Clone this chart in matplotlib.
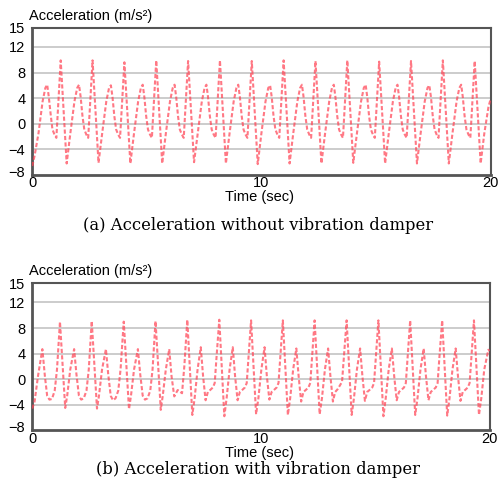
import matplotlib
matplotlib.use("Agg")
import matplotlib.pyplot as plt
import matplotlib.transforms as mtransforms

# ---------------- data ----------------
top_time = [0.00, 0.10, 0.27, 0.45, 0.57, 0.65, 0.72, 0.81, 0.88, 0.97, 1.05,
            1.24, 1.50, 1.66, 1.84, 1.96, 2.04, 2.11, 2.19, 2.27, 2.36, 2.44,
            2.63, 2.89, 3.05, 3.23, 3.35, 3.43, 3.50, 3.58, 3.66, 3.75, 3.83,
            4.02, 4.28, 4.44, 4.62, 4.74, 4.82, 4.89, 4.97, 5.05, 5.14, 5.22,
            5.41, 5.67, 5.83, 6.01, 6.13, 6.21, 6.28, 6.36, 6.44, 6.53, 6.61,
            6.80, 7.06, 7.22, 7.40, 7.52, 7.60, 7.67, 7.75, 7.83, 7.92, 8.00,
            8.19, 8.45, 8.61, 8.79, 8.91, 8.99, 9.06, 9.14, 9.22, 9.31, 9.39,
            9.58, 9.84, 10.00, 10.18, 10.30, 10.38, 10.45, 10.53, 10.61, 10.70, 10.78,
            10.97, 11.23, 11.39, 11.57, 11.69, 11.77, 11.84, 11.92, 12.00, 12.09, 12.17,
            12.36, 12.62, 12.78, 12.96, 13.08, 13.16, 13.23, 13.31, 13.39, 13.48, 13.56,
            13.75, 14.01, 14.17, 14.35, 14.47, 14.55, 14.62, 14.70, 14.78, 14.87, 14.95,
            15.14, 15.40, 15.56, 15.74, 15.86, 15.94, 16.01, 16.09, 16.17, 16.26, 16.34,
            16.53, 16.79, 16.95, 17.13, 17.25, 17.33, 17.40, 17.48, 17.56, 17.65, 17.73,
            17.92, 18.18, 18.34, 18.52, 18.64, 18.72, 18.79, 18.87, 18.95, 19.04, 19.12,
            19.31, 19.57, 19.73, 19.91, 20.00]
top_acc = [-6.6, -5.0, -1.5, 3.5, 5.6, 6.1, 4.2, 1.2, -0.9, -1.7, -2.2,
           9.9, -6.2, -1.5, 3.5, 5.6, 6.1, 4.2, 1.2, -0.9, -1.7, -2.2,
           9.9, -6.1, -1.5, 3.5, 5.6, 6.0, 4.2, 1.2, -0.9, -1.7, -2.2,
           9.6, -6.2, -1.5, 3.5, 5.6, 6.1, 4.2, 1.2, -0.9, -1.7, -2.2,
           9.9, -6.2, -1.5, 3.5, 5.6, 6.1, 4.2, 1.2, -0.9, -1.7, -2.2,
           9.8, -6.0, -1.5, 3.5, 5.6, 6.1, 4.2, 1.2, -0.9, -1.7, -2.2,
           9.9, -6.2, -1.5, 3.5, 5.6, 6.1, 4.2, 1.2, -0.9, -1.7, -2.2,
           9.8, -6.3, -1.5, 3.5, 5.6, 6.0, 4.2, 1.2, -0.9, -1.7, -2.2,
           9.9, -6.2, -1.5, 3.5, 5.6, 6.1, 4.2, 1.2, -0.9, -1.7, -2.2,
           9.8, -6.2, -1.5, 3.5, 5.6, 6.1, 4.2, 1.2, -0.9, -1.7, -2.2,
           9.9, -6.1, -1.5, 3.5, 5.6, 6.1, 4.2, 1.2, -0.9, -1.7, -2.2,
           9.7, -6.2, -1.5, 3.5, 5.6, 6.1, 4.2, 1.2, -0.9, -1.7, -2.2,
           9.8, -6.2, -1.5, 3.5, 5.6, 6.0, 4.2, 1.2, -0.9, -1.7, -2.2,
           9.9, -6.2, -1.5, 3.5, 5.6, 6.1, 4.2, 1.2, -0.9, -1.7, -2.2,
           9.8, -6.2, -1.5, 2.6, 3.8]

bottom_time = [0.00, 0.10, 0.25, 0.44, 0.55, 0.65, 0.75, 0.86, 0.98, 1.08,
               1.21, 1.44, 1.53, 1.66, 1.83, 1.93, 2.04, 2.14, 2.25, 2.37, 2.47,
               2.60, 2.83, 2.92, 3.05, 3.22, 3.32, 3.43, 3.53, 3.64, 3.76, 3.86,
               4.00, 4.23, 4.32, 4.45, 4.62, 4.72, 4.83, 4.93, 5.04, 5.16, 5.26,
               5.39, 5.62, 5.71, 5.84, 5.99, 6.09, 6.21, 6.36, 6.55, 6.65,
               6.78, 7.00, 7.10, 7.23, 7.37, 7.47, 7.58, 7.68, 7.78, 7.90, 7.98, 8.06,
               8.18, 8.40, 8.50, 8.63, 8.77, 8.87, 8.98, 9.08, 9.18, 9.30, 9.38, 9.46,
               9.57, 9.79, 9.89, 10.02, 10.16, 10.26, 10.37, 10.47, 10.57, 10.69, 10.77, 10.85,
               10.96, 11.18, 11.28, 11.41, 11.55, 11.65, 11.76, 11.86, 11.96, 12.08, 12.16, 12.24,
               12.35, 12.57, 12.67, 12.80, 12.94, 13.04, 13.15, 13.25, 13.35, 13.47, 13.55, 13.63,
               13.75, 13.97, 14.07, 14.20, 14.34, 14.44, 14.55, 14.65, 14.75, 14.87, 14.95, 15.03,
               15.14, 15.36, 15.46, 15.59, 15.73, 15.83, 15.94, 16.04, 16.14, 16.26, 16.34, 16.42,
               16.53, 16.75, 16.85, 16.98, 17.12, 17.22, 17.33, 17.43, 17.53, 17.65, 17.73, 17.81,
               17.93, 18.15, 18.25, 18.38, 18.52, 18.62, 18.73, 18.83, 18.93, 19.05, 19.13, 19.21,
               19.32, 19.54, 19.64, 19.77, 19.95, 20.00]
bottom_acc = [-4.6, -3.5, 0.5, 4.7, 0.5, -2.6, -3.2, -3.1, -1.8, 1.5,
              9.0, -4.5, -2.5, 1.5, 4.7, 0.8, -2.6, -3.2, -3.0, -1.8, 1.5,
              9.1, -4.6, -2.5, 1.5, 4.7, 0.8, -2.6, -3.3, -3.0, -1.8, 1.5,
              9.0, -4.7, -2.5, 1.5, 4.7, 0.8, -2.6, -3.2, -3.0, -1.8, 1.5,
              9.1, -4.8, -2.5, 1.5, 4.7, 0.5, -2.7, -1.7, -2.2, 2.0,
              9.3, -5.6, -3.0, 1.5, 5.0, 0.5, -3.3, -2.0, -1.7, -1.3, -0.6, 3.5,
              9.3, -5.8, -3.0, 1.5, 5.0, 0.5, -3.3, -2.0, -1.7, -1.3, -0.6, 3.5,
              9.2, -5.5, -3.0, 1.5, 5.0, 0.5, -3.2, -2.0, -1.7, -1.3, -0.6, 3.5,
              9.2, -5.6, -3.0, 1.5, 4.8, 0.5, -3.5, -2.0, -1.7, -1.3, -0.6, 3.5,
              9.2, -5.5, -3.0, 1.5, 4.8, 0.5, -3.5, -2.0, -1.6, -0.9, -0.4, 3.5,
              9.2, -5.6, -3.0, 1.5, 4.8, 0.5, -3.4, -2.0, -1.7, -1.3, -0.6, 3.5,
              9.2, -5.8, -3.0, 1.5, 4.8, 0.5, -3.3, -2.0, -1.7, -1.3, -0.6, 3.5,
              9.2, -5.6, -3.0, 1.5, 4.8, 0.5, -3.3, -2.0, -1.7, -1.3, -0.6, 3.5,
              9.2, -5.7, -3.0, 1.5, 4.8, 0.5, -3.4, -2.0, -1.7, -1.3, -0.6, 3.5,
              9.2, -5.6, -3.0, 1.5, 4.6, 4.4]

y_ticks = [15, 12, 8, 4, 0, -4, -8]
y_tick_labels = ["15", "12", "8", "4", "0", "\u22124", "\u22128"]
x_ticks = [0, 10, 20]
x_tick_labels = ["0", "10", "20"]
grid_levels = [12, 8, 4, 0, -4]
y_title = "Acceleration (m/s\u00b2)"
x_title = "Time (sec)"
captions = ["(a) Acceleration without vibration damper",
            "(b) Acceleration with vibration damper"]

# ---------------- figure ----------------
W, H = 498, 490
fig = plt.figure(figsize=(W / 100, H / 100), dpi=100)

sans = "Liberation Sans"
serif = "DejaVu Serif"

panels = [
    dict(t=top_time, a=top_acc, left=32.3, right=490.5, top=27.7, bottom=175.0,
         xtitle_y=197, caption_y=225),
    dict(t=bottom_time, a=bottom_acc, left=32.3, right=489.5, top=283.3, bottom=430.3,
         xtitle_y=453, caption_y=469),
]

for p, cap in zip(panels, captions):
    ax = fig.add_axes([p["left"] / W, 1 - p["bottom"] / H,
                       (p["right"] - p["left"]) / W, (p["bottom"] - p["top"]) / H])
    ax.set_xlim(0, 20)
    ax.set_ylim(-8, 15)
    for g in grid_levels:
        ax.axhline(g, color="#c8c8c8", lw=1.3, zorder=1)
    ax.plot(p["t"], p["a"], color="#ff4455", alpha=0.72, lw=1.5,
            linestyle=(0, (2.0, 1.1)), zorder=3)
    ax.set_yticks(y_ticks)
    ax.set_yticklabels(y_tick_labels, fontsize=10.5, fontfamily=sans)
    ax.set_xticks(x_ticks)
    ax.set_xticklabels(x_tick_labels, fontsize=10.5, fontfamily=sans)
    ax.tick_params(length=0)
    ax.tick_params(axis="x", pad=1.0)
    ax.tick_params(axis="y", pad=5)
    # nudge the -8 label up a little like the reference
    lab = ax.get_yticklabels()[-1]
    lab.set_transform(lab.get_transform() +
                      mtransforms.ScaledTranslation(0, 4 / 100, fig.dpi_scale_trans))
    for s in ax.spines.values():
        s.set_color("#555555")
        s.set_linewidth(1.5)
    ax.spines["left"].set_linewidth(2.0)
    ax.spines["bottom"].set_linewidth(2.0)

    fig.text(29 / W, 1 - (p["top"] - 12) / H, y_title, fontsize=10.5,
             fontfamily=sans, ha="left", va="center")
    fig.text(259 / W, 1 - p["xtitle_y"] / H, x_title, fontsize=10.5,
             fontfamily=sans, ha="center", va="center")
    fig.text(258 / W, 1 - p["caption_y"] / H, cap, fontsize=11.8,
             fontfamily=serif, ha="center", va="center")

fig.savefig("out.png", dpi=100)
